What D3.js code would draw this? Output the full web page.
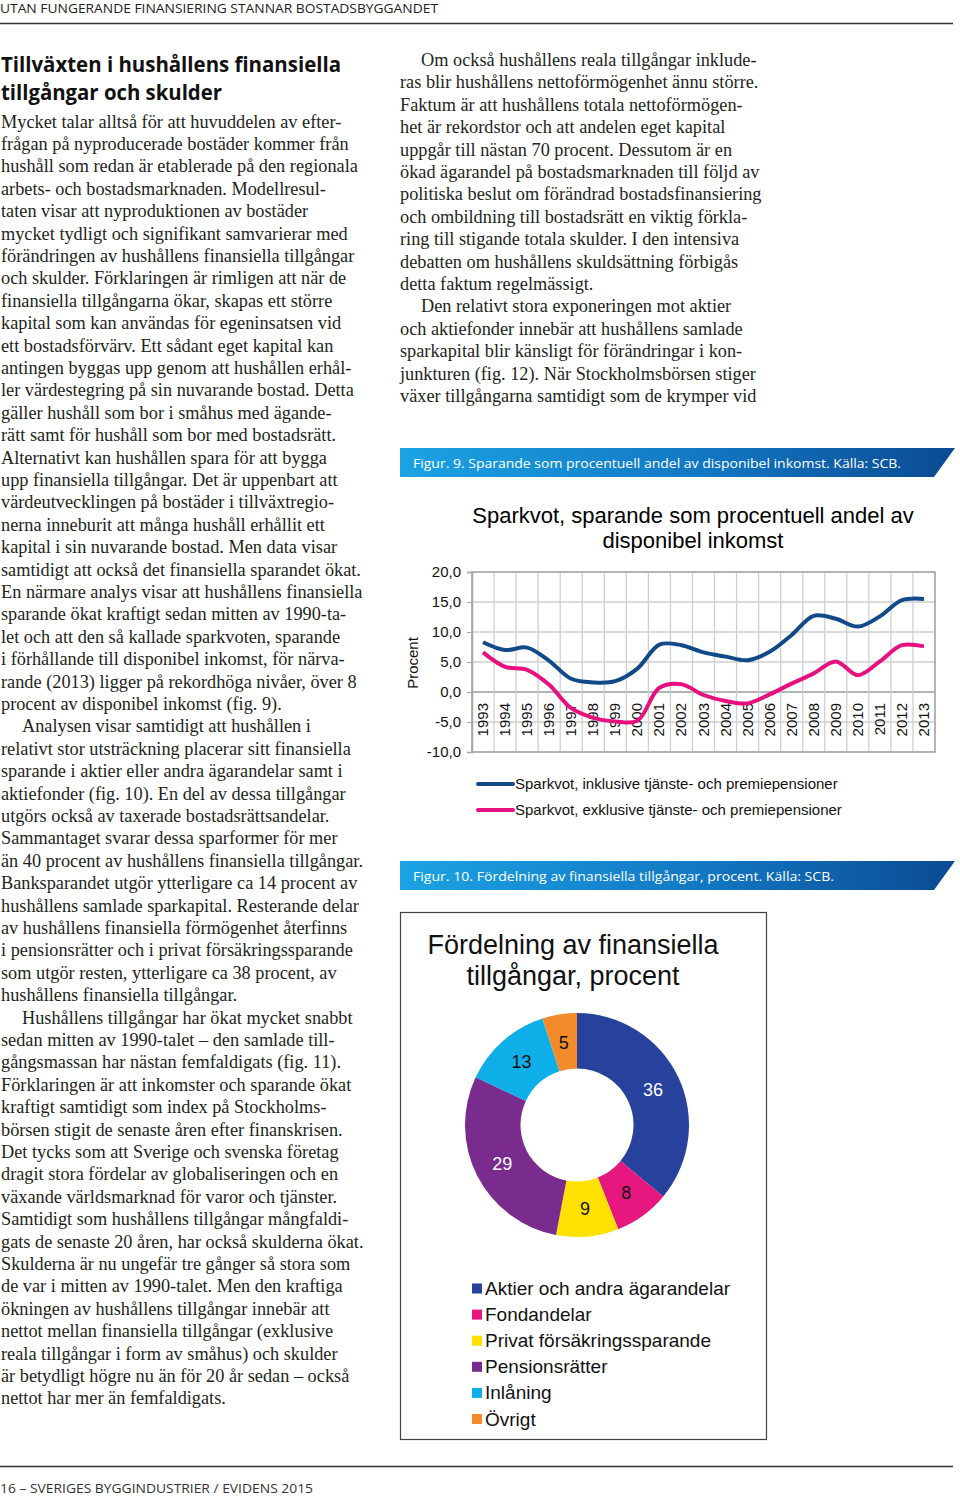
<!DOCTYPE html>
<html><head><meta charset="utf-8">
<script src="https://cdn.jsdelivr.net/npm/d3@7"></script>
<style>
html,body{margin:0;padding:0;background:#fff;}
svg{display:block;}
</style></head>
<body>
<script>
// ---------- DATA ----------
const years = ["1993","1994","1995","1996","1997","1998","1999","2000","2001","2002","2003","2004","2005","2006","2007","2008","2009","2010","2011","2012","2013"];
const sparkvotInkl = [8.3,7.0,7.4,5.2,2.2,1.6,1.8,3.9,7.9,7.8,6.6,5.9,5.3,6.7,9.5,12.7,12.2,10.9,12.6,15.3,15.5];
const sparkvotExkl = [6.6,4.2,3.7,1.2,-2.7,-4.3,-4.9,-4.8,0.7,1.3,-0.5,-1.5,-1.9,-0.4,1.4,3.1,5.1,2.8,5.1,7.8,7.6];
const yTicks = [-10,-5,0,5,10,15,20];
const lineSeriesNames = ["Sparkvot, inklusive tjänste- och premiepensioner","Sparkvot, exklusive tjänste- och premiepensioner"];
const pieCategories = ["Aktier och andra ägarandelar","Fondandelar","Privat försäkringssparande","Pensionsrätter","Inlåning","Övrigt"];
const pieValues = [36,8,9,29,13,5];
const pieColors = ["#26429c","#e6177f","#ffe100","#7a2c8e","#0eaee8","#f38b2a"];
const pieLabelColors = ["#fff","#111","#111","#fff","#111","#111"];

const headerText = "UTAN FUNGERANDE FINANSIERING STANNAR BOSTADSBYGGANDET";
const footerText = "16 – SVERIGES BYGGINDUSTRIER / EVIDENS 2015";
const headingLines = ["Tillväxten i hushållens finansiella","tillgångar och skulder"];
const leftColumnLines = [
"Mycket talar alltså för att huvuddelen av efter-",
"frågan på nyproducerade bostäder kommer från",
"hushåll som redan är etablerade på den regionala",
"arbets- och bostadsmarknaden. Modellresul-",
"taten visar att nyproduktionen av bostäder",
"mycket tydligt och signifikant samvarierar med",
"förändringen av hushållens finansiella tillgångar",
"och skulder. Förklaringen är rimligen att när de",
"finansiella tillgångarna ökar, skapas ett större",
"kapital som kan användas för egeninsatsen vid",
"ett bostadsförvärv. Ett sådant eget kapital kan",
"antingen byggas upp genom att hushållen erhål-",
"ler värdestegring på sin nuvarande bostad. Detta",
"gäller hushåll som bor i småhus med ägande-",
"rätt samt för hushåll som bor med bostadsrätt.",
"Alternativt kan hushållen spara för att bygga",
"upp finansiella tillgångar. Det är uppenbart att",
"värdeutvecklingen på bostäder i tillväxtregio-",
"nerna inneburit att många hushåll erhållit ett",
"kapital i sin nuvarande bostad. Men data visar",
"samtidigt att också det finansiella sparandet ökat.",
"En närmare analys visar att hushållens finansiella",
"sparande ökat kraftigt sedan mitten av 1990-ta-",
"let och att den så kallade sparkvoten, sparande",
"i förhållande till disponibel inkomst, för närva-",
"rande (2013) ligger på rekordhöga nivåer, över 8",
"procent av disponibel inkomst (fig. 9).",
"Analysen visar samtidigt att hushållen i",
"relativt stor utsträckning placerar sitt finansiella",
"sparande i aktier eller andra ägarandelar samt i",
"aktiefonder (fig. 10). En del av dessa tillgångar",
"utgörs också av taxerade bostadsrättsandelar.",
"Sammantaget svarar dessa sparformer för mer",
"än 40 procent av hushållens finansiella tillgångar.",
"Banksparandet utgör ytterligare ca 14 procent av",
"hushållens samlade sparkapital. Resterande delar",
"av hushållens finansiella förmögenhet återfinns",
"i pensionsrätter och i privat försäkringssparande",
"som utgör resten, ytterligare ca 38 procent, av",
"hushållens finansiella tillgångar.",
"Hushållens tillgångar har ökat mycket snabbt",
"sedan mitten av 1990-talet – den samlade till-",
"gångsmassan har nästan femfaldigats (fig. 11).",
"Förklaringen är att inkomster och sparande ökat",
"kraftigt samtidigt som index på Stockholms-",
"börsen stigit de senaste åren efter finanskrisen.",
"Det tycks som att Sverige och svenska företag",
"dragit stora fördelar av globaliseringen och en",
"växande världsmarknad för varor och tjänster.",
"Samtidigt som hushållens tillgångar mångfaldi-",
"gats de senaste 20 åren, har också skulderna ökat.",
"Skulderna är nu ungefär tre gånger så stora som",
"de var i mitten av 1990-talet. Men den kraftiga",
"ökningen av hushållens tillgångar innebär att",
"nettot mellan finansiella tillgångar (exklusive",
"reala tillgångar i form av småhus) och skulder",
"är betydligt högre nu än för 20 år sedan – också",
"nettot har mer än femfaldigats."
];
const leftIndented = [27,40];
const rightColumnLines = [
"Om också hushållens reala tillgångar inklude-",
"ras blir hushållens nettoförmögenhet ännu större.",
"Faktum är att hushållens totala nettoförmögen-",
"het är rekordstor och att andelen eget kapital",
"uppgår till nästan 70 procent. Dessutom är en",
"ökad ägarandel på bostadsmarknaden till följd av",
"politiska beslut om förändrad bostadsfinansiering",
"och ombildning till bostadsrätt en viktig förkla-",
"ring till stigande totala skulder. I den intensiva",
"debatten om hushållens skuldsättning förbigås",
"detta faktum regelmässigt.",
"Den relativt stora exponeringen mot aktier",
"och aktiefonder innebär att hushållens samlade",
"sparkapital blir känsligt för förändringar i kon-",
"junkturen (fig. 12). När Stockholmsbörsen stiger",
"växer tillgångarna samtidigt som de krymper vid"
];
const rightIndented = [0,11];
const fig9Caption = "Figur. 9. Sparande som procentuell andel av disponibel inkomst. Källa: SCB.";
const fig10Caption = "Figur. 10. Fördelning av finansiella tillgångar, procent. Källa: SCB.";
const lineTitle = ["Sparkvot, sparande som procentuell andel av","disponibel inkomst"];
const pieTitle = ["Fördelning av finansiella","tillgångar, procent"];
const yAxisTitle = "Procent";

// ---------- DRAW ----------
const W = 960, H = 1497;
const svg = d3.select("body").append("svg").attr("width", W).attr("height", H);
const SANS = "'Liberation Sans', Arial, sans-serif";
const SERIF = "'Liberation Serif', 'Times New Roman', serif";
const UI = "'Open Sans', 'Noto Sans', sans-serif";
const INK = "#231f20";

// header
svg.append("text").attr("x", 0).attr("y", 13).attr("font-family", UI).attr("font-size", 12.5)
  .attr("fill", "#222").attr("textLength", 438).attr("lengthAdjust", "spacingAndGlyphs").text(headerText);
svg.append("line").attr("x1", 0).attr("x2", 953).attr("y1", 23.5).attr("y2", 23.5).attr("stroke", "#333").attr("stroke-width", 1.3);

// heading
const headingWidths = [340, 221];
headingLines.forEach((t, i) => {
  svg.append("text").attr("x", 1).attr("y", 72 + i * 28).attr("font-family", UI).attr("font-weight", 700)
    .attr("font-size", 22).attr("fill", "#111").attr("textLength", headingWidths[i]).attr("lengthAdjust", "spacingAndGlyphs").text(t);
});

// body columns
function column(lines, x0, y0, indented, maxW) {
  const g = svg.append("g");
  lines.forEach((t, i) => {
    const ind = indented.includes(i) ? 21 : 0;
    const tx = g.append("text").attr("x", x0 + ind).attr("y", y0 + i * 22.4)
      .attr("font-family", SERIF).attr("font-size", 18.3).attr("fill", INK).text(t);
    const len = tx.node().getComputedTextLength();
    if (len > maxW - ind) tx.attr("textLength", maxW - ind).attr("lengthAdjust", "spacingAndGlyphs");
  });
}
column(leftColumnLines, 1, 127.5, leftIndented, 368);
column(rightColumnLines, 400, 66, rightIndented, 368);

// banners
const defs = svg.append("defs");
const grad = defs.append("linearGradient").attr("id", "bannerGrad").attr("x1", "0%").attr("x2", "100%");
grad.append("stop").attr("offset", "0%").attr("stop-color", "#1ba3e3");
grad.append("stop").attr("offset", "55%").attr("stop-color", "#1277c2");
grad.append("stop").attr("offset", "100%").attr("stop-color", "#0b4b93");
function banner(y, h, text, tw) {
  svg.append("path").attr("d", `M400,${y}L955,${y}L934,${y + h}L400,${y + h}Z`).attr("fill", "url(#bannerGrad)");
  svg.append("text").attr("x", 413).attr("y", y + h / 2 + 5).attr("font-family", UI).attr("font-size", 13.5)
    .attr("fill", "#fff").attr("textLength", tw).attr("lengthAdjust", "spacingAndGlyphs").text(text);
}
banner(448, 29, fig9Caption, 488);
banner(861, 29, fig10Caption, 421);

// ---------- LINE CHART ----------
const x = d3.scaleBand().domain(years).range([472, 935]);
const y = d3.scaleLinear().domain([-10, 20]).range([752, 572]);
const loc = d3.formatLocale({decimal: ",", thousands: " ", grouping: [3], currency: ["", " kr"], minus: "-"});
const fmt = loc.format(".1f");

lineTitle.forEach((t, i) => {
  svg.append("text").attr("x", 693).attr("y", 523 + i * 25).attr("text-anchor", "middle")
    .attr("font-family", SANS).attr("font-size", 22).attr("fill", "#000").text(t);
});

const chart = svg.append("g");
chart.selectAll("line.hg").data(yTicks).join("line").attr("class", "hg")
  .attr("x1", x.range()[0]).attr("x2", x.range()[1]).attr("y1", d => y(d)).attr("y2", d => y(d))
  .attr("stroke", d => d === 0 ? "#9a9a9a" : "#cfcfcf").attr("stroke-width", d => d === 0 ? 1.5 : 1.3);
const edges = years.map(d => x(d)).concat([x.range()[1]]);
chart.selectAll("line.vg").data(edges).join("line").attr("class", "vg")
  .attr("x1", d => d).attr("x2", d => d).attr("y1", y(20)).attr("y2", y(-10))
  .attr("stroke", "#cfcfcf").attr("stroke-width", 1.3);
chart.append("rect").attr("x", x.range()[0]).attr("y", y(20)).attr("width", x.range()[1] - x.range()[0])
  .attr("height", y(-10) - y(20)).attr("fill", "none").attr("stroke", "#a6a6a6").attr("stroke-width", 1.5);
const yAxis = d3.axisLeft(y).tickValues(yTicks).tickFormat(fmt).tickSize(5).tickPadding(6);
const ya = chart.append("g").attr("transform", `translate(${x.range()[0]},0)`).call(yAxis);
ya.select(".domain").attr("stroke", "#a6a6a6").attr("stroke-width", 1.5);
ya.selectAll(".tick line").attr("stroke", "#a6a6a6");
ya.selectAll("text").attr("font-family", SANS).attr("font-size", 15).attr("fill", "#111");
const xa = chart.append("g").attr("transform", `translate(0,${y(0)})`)
  .call(d3.axisBottom(x).tickSize(0).tickPadding(0));
xa.select(".domain").remove();
xa.selectAll(".tick text").attr("font-family", SANS).attr("font-size", 15).attr("fill", "#111")
  .attr("text-anchor", "end").attr("dy", null).attr("y", 0)
  .attr("transform", "translate(5,11) rotate(-90)");
svg.append("text").attr("transform", "translate(418,663) rotate(-90)").attr("text-anchor", "middle")
  .attr("font-family", SANS).attr("font-size", 15).attr("fill", "#111").text(yAxisTitle);

const lineColors = ["#124a89", "#e6117f"];
const lineGen = d3.line().x((d, i) => x(years[i]) + x.bandwidth() / 2).y(d => y(d)).curve(d3.curveCatmullRom.alpha(0.5));
[sparkvotInkl, sparkvotExkl].forEach((s, k) => {
  chart.append("path").attr("d", lineGen(s)).attr("fill", "none").attr("stroke", lineColors[k])
    .attr("stroke-width", 4).attr("stroke-linejoin", "round");
});
lineSeriesNames.forEach((n, k) => {
  const ly = 784 + k * 26;
  svg.append("line").attr("x1", 478).attr("x2", 513).attr("y1", ly).attr("y2", ly)
    .attr("stroke", lineColors[k]).attr("stroke-width", 4).attr("stroke-linecap", "round");
  svg.append("text").attr("x", 515).attr("y", ly + 5).attr("font-family", SANS).attr("font-size", 15)
    .attr("fill", "#111").text(n);
});

// ---------- PIE ----------
svg.append("rect").attr("x", 400.5).attr("y", 912.5).attr("width", 366).attr("height", 527)
  .attr("fill", "none").attr("stroke", "#444").attr("stroke-width", 1.2);
pieTitle.forEach((t, i) => {
  svg.append("text").attr("x", 573).attr("y", 954 + i * 31).attr("text-anchor", "middle")
    .attr("font-family", SANS).attr("font-size", 27).attr("fill", "#111").text(t);
});
const pie = d3.pie().sort(null).value(d => d);
const arcs = pie(pieValues);
const arc = d3.arc().innerRadius(56.5).outerRadius(112);
const labelArc = d3.arc().innerRadius(84).outerRadius(84);
const pg = svg.append("g").attr("transform", "translate(577,1125)");
pg.selectAll("path").data(arcs).join("path").attr("d", arc).attr("fill", (d, i) => pieColors[i]);
pg.selectAll("text").data(arcs).join("text")
  .attr("transform", d => `translate(${labelArc.centroid(d)})`).attr("text-anchor", "middle").attr("dy", "0.36em")
  .attr("font-family", SANS).attr("font-size", 18).attr("fill", (d, i) => pieLabelColors[i]).text(d => d.data);
pieCategories.forEach((c, i) => {
  const ly = 1288 + i * 26.1;
  svg.append("rect").attr("x", 472).attr("y", ly - 4.5).attr("width", 10).attr("height", 10).attr("fill", pieColors[i]);
  svg.append("text").attr("x", 485).attr("y", ly + 7).attr("font-family", SANS).attr("font-size", 19)
    .attr("fill", "#111").text(c);
});

// footer
svg.append("line").attr("x1", 0).attr("x2", 953).attr("y1", 1466.5).attr("y2", 1466.5).attr("stroke", "#333").attr("stroke-width", 1.3);
svg.append("text").attr("x", 0).attr("y", 1493).attr("font-family", UI).attr("font-size", 12.5)
  .attr("fill", "#333").attr("textLength", 313).attr("lengthAdjust", "spacingAndGlyphs").text(footerText);
</script>
</body></html>
